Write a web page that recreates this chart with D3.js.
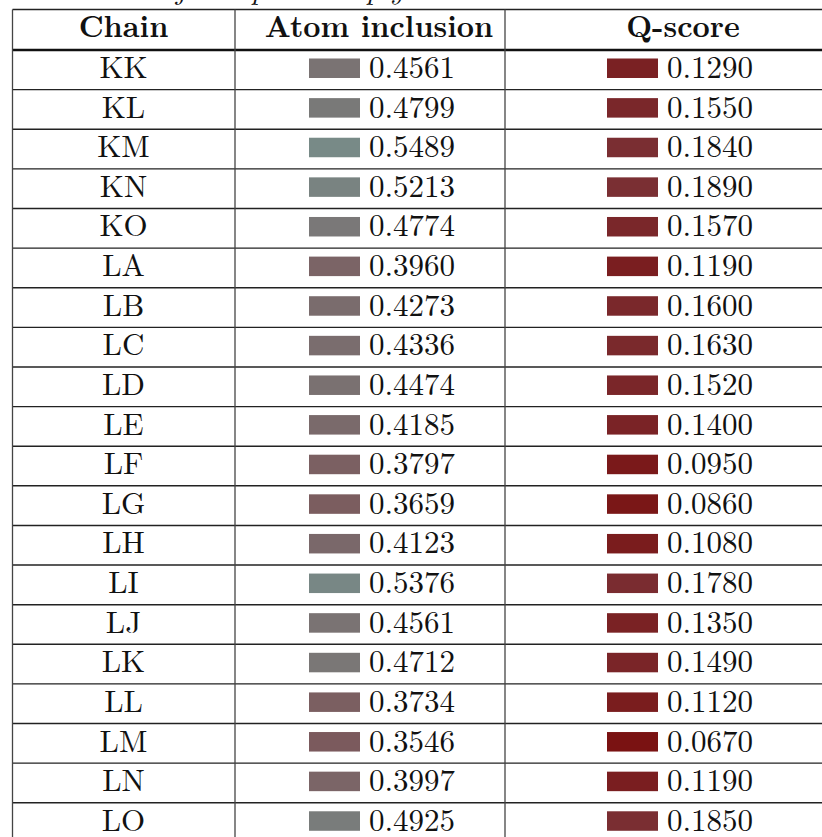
<!DOCTYPE html>
<html><head><meta charset="utf-8">
<script src="https://cdn.jsdelivr.net/npm/d3@7"></script>
<style>
html,body{margin:0;padding:0;background:#fff;overflow:hidden;}
svg{display:block;}
text{font-family:"Latin Modern Roman","CMU Serif","Liberation Serif","Times New Roman",serif;fill:#111;}
</style></head>
<body>
<svg id="chart" width="822" height="837"></svg>
<script>
const headers = ["Chain", "Atom inclusion", "Q-score"];
const chains = ["KK","KL","KM","KN","KO","LA","LB","LC","LD","LE","LF","LG","LH","LI","LJ","LK","LL","LM","LN","LO"];
const atomInclusion = [0.4561,0.4799,0.5489,0.5213,0.4774,0.3960,0.4273,0.4336,0.4474,0.4185,0.3797,0.3659,0.4123,0.5376,0.4561,0.4712,0.3734,0.3546,0.3997,0.4925];
const qScore = [0.1290,0.1550,0.1840,0.1890,0.1570,0.1190,0.1600,0.1630,0.1520,0.1400,0.0950,0.0860,0.1080,0.1780,0.1350,0.1490,0.1120,0.0670,0.1190,0.1850];
const colorStops = [0.067, 0.189, 0.3546, 0.4561, 0.5489];
const colorRange = ["#7a1212", "#7a2f33", "#7b5a5d", "#7a7373", "#788a87"];
// caption pieces (the caption is cut off by the top edge; only descenders show)
const captionParts = ["Table 5: Atom inclusion and ob", "ject-level sam", "ple sim", "ply"];

const svg = d3.select("#chart");
const color = d3.scaleLinear().domain(colorStops).range(colorRange).clamp(true);
const fmt = d3.format(".4f");

const colEdges = [12.5, 235, 505, 854];
const headTop = 9.5, headBottom = 50;
const rowH = 39.62;
const y = d3.scaleBand().domain(chains).range([headBottom, headBottom + rowH * chains.length]).padding(0);

// caption
const capX = [181, 176, 251, 366];
const capAnchor = ["end", "start", "start", "start"];
svg.selectAll("text.cap").data(captionParts).join("text").attr("class","cap")
  .attr("x", (d,i)=>capX[i]).attr("y", -1)
  .attr("text-anchor", (d,i)=>capAnchor[i])
  .attr("font-size", 30).attr("font-style", "italic").text(d=>d);

// header
const hx = [123.5, 379, 683];
svg.selectAll("text.h").data(headers).join("text").attr("class","h")
  .attr("x", (d,i)=>hx[i]).attr("y", headTop + 27.5)
  .attr("text-anchor","middle").attr("font-size", 30).attr("font-weight","bold")
  .text(d=>d);

const rows = chains.map((c,i)=>({c, a: atomInclusion[i], q: qScore[i]}));
const g = svg.selectAll("g.row").data(rows).join("g").attr("class","row")
  .attr("transform", d=>`translate(0,${y(d.c)})`);

g.append("text").attr("x", hx[0]).attr("y", 28).attr("text-anchor","middle")
  .attr("font-size", 31).text(d=>d.c);

g.append("rect").attr("x", colEdges[1]+74).attr("y", 8.5).attr("width", 51).attr("height", 19.5)
  .attr("fill", d=>color(d.a));
g.append("text").attr("x", colEdges[1]+134).attr("y", 28).attr("font-size", 31).text(d=>fmt(d.a));

g.append("rect").attr("x", colEdges[2]+102).attr("y", 8.5).attr("width", 51).attr("height", 19.5)
  .attr("fill", d=>color(d.q));
g.append("text").attr("x", colEdges[2]+162).attr("y", 28).attr("font-size", 31).text(d=>fmt(d.q));

// grid lines
svg.append("line").attr("x1", colEdges[0]).attr("x2", 822).attr("y1", headTop).attr("y2", headTop)
  .attr("stroke","#222").attr("stroke-width",1.5);
svg.append("line").attr("x1", colEdges[0]).attr("x2", 822).attr("y1", headBottom).attr("y2", headBottom)
  .attr("stroke","#111").attr("stroke-width",2.4);
svg.selectAll("line.r").data(chains.slice(1)).join("line").attr("class","r")
  .attr("x1", colEdges[0]).attr("x2", 822).attr("y1", d=>y(d)).attr("y2", d=>y(d))
  .attr("stroke","#222").attr("stroke-width",1.4);
svg.selectAll("line.v").data(colEdges.slice(0,3)).join("line").attr("class","v")
  .attr("x1", d=>d).attr("x2", d=>d).attr("y1", headTop).attr("y2", 837)
  .attr("stroke","#444").attr("stroke-width",1.3);
</script>
</body></html>
